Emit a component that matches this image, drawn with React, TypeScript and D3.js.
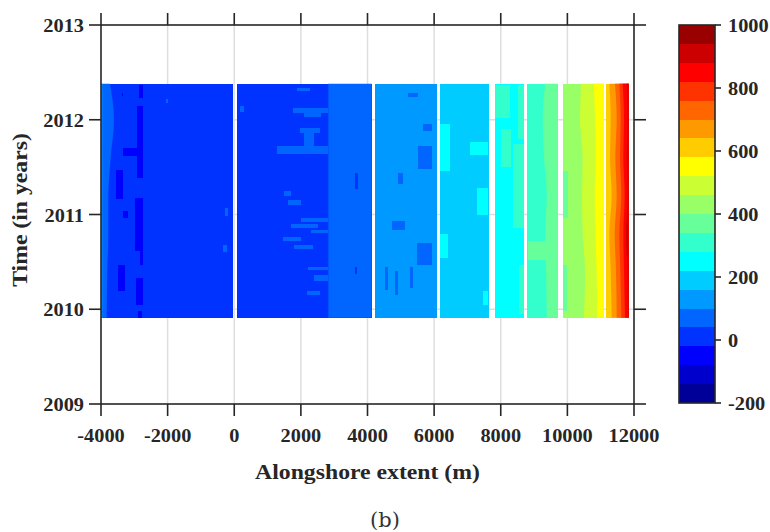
import React from 'react';
import * as d3 from 'd3';

// ---------- data ----------
const xTicks = [-4000, -2000, 0, 2000, 4000, 6000, 8000, 10000, 12000];
const yTicks = [2009, 2010, 2011, 2012, 2013];
const cbTicks = [-200, 0, 200, 400, 600, 800, 1000];

// data segments along shore: [xStart, xEnd, base value]
const segments: [number, number, number][] = [
  [-4000, -30, 10],
  [70, 4126, 10],
  [4225, 6078, 130],
  [6177, 7648, 190],
  [7819, 8707, 250],
  [8788, 9719, 310],
  [9860, 11100, 430],
  [11160, 11840, 610],
];

const timeKnots = [2012.38, 2012.0, 2011.6, 2011.2, 2010.8, 2010.4, 2009.91];

// contour bands: value, left edge per knot, right edge per knot
const bandValues = [70, 130, 70, 370, 490, 550, 670, 730, 790, 850, 910];
const bandLeft: (number | number[])[] = [
  -4000,
  -4000,
  2824,
  [9330, 9260, 9300, 9380, 9330, 9360, 9380],
  [10410, 10380, 10460, 10440, 10460, 10530, 10500],
  [10800, 10830, 10850, 10820, 10840, 10880, 10900],
  [11260, 11300, 11280, 11330, 11260, 11300, 11330],
  [11430, 11480, 11440, 11480, 11420, 11460, 11480],
  [11560, 11600, 11580, 11620, 11560, 11590, 11620],
  [11660, 11700, 11680, 11720, 11680, 11700, 11730],
  [11780, 11800, 11780, 11810, 11760, 11800, 11820],
];
const bandRight: (number | number[])[] = [
  [-3730, -3610, -3710, -3780, -3780, -3810, -3830],
  -3960,
  4126,
  9719,
  11100,
  11100,
  11840,
  11840,
  11840,
  11840,
  11840,
];

// patches: [x0, x1, tTop, tBottom, value]
const patches: [number, number, number, number, number][] = [
  // dark spots, west part
  [-2850, -2750, 2012.37, 2012.23, -50],
  [-2930, -2730, 2012.15, 2011.39, -50],
  [-2980, -2730, 2011.17, 2010.61, -50],
  [-2830, -2750, 2010.61, 2010.47, -50],
  [-2950, -2730, 2010.33, 2010.04, -50],
  [-2900, -2760, 2009.98, 2009.91, -50],
  [-3550, -3330, 2011.47, 2011.16, -50],
  [-3480, -3280, 2010.47, 2010.19, -50],
  [-3380, -3330, 2012.28, 2012.25, -50],
  [-3330, -2930, 2011.70, 2011.62, -50],
  [-3330, -3180, 2011.04, 2010.96, -50],
  [-280, -180, 2011.07, 2010.98, 70],
  [-330, -230, 2010.68, 2010.60, 70],
  [-2060, -1990, 2012.22, 2012.18, 70],
  // lighter speckles, 0-2800 m
  [1770, 2824, 2012.12, 2012.07, 70],
  [2100, 2600, 2012.07, 2012.03, 70],
  [1270, 2824, 2011.72, 2011.64, 70],
  [1970, 2570, 2011.91, 2011.86, 70],
  [2100, 2400, 2011.86, 2011.72, 70],
  [1500, 1700, 2011.25, 2011.20, 70],
  [1600, 2000, 2011.15, 2011.10, 70],
  [2000, 2824, 2010.96, 2010.92, 70],
  [1700, 2500, 2010.90, 2010.86, 70],
  [2300, 2824, 2010.84, 2010.80, 70],
  [1470, 2000, 2010.76, 2010.72, 70],
  [1800, 2370, 2010.68, 2010.64, 70],
  [2200, 2824, 2010.45, 2010.41, 70],
  [2400, 2824, 2010.36, 2010.30, 70],
  [2170, 2570, 2010.19, 2010.15, 70],
  [1870, 2270, 2012.34, 2012.30, 70],
  [170, 300, 2012.14, 2012.08, 70],
  [3630, 3700, 2011.44, 2011.27, 10],
  [3630, 3690, 2010.45, 2010.37, 10],
  // darker patches, 4200-6100 m
  [5530, 5930, 2011.72, 2011.48, 70],
  [5480, 5930, 2010.70, 2010.47, 70],
  [5280, 5380, 2010.45, 2010.22, 70],
  [4730, 5130, 2010.93, 2010.84, 70],
  [4930, 5080, 2011.44, 2011.32, 70],
  [4530, 4630, 2010.45, 2010.20, 70],
  [4830, 4930, 2010.40, 2010.15, 70],
  [5680, 5930, 2011.95, 2011.88, 70],
  [5230, 5530, 2012.28, 2012.24, 70],
  // cyan patches, 6200-7650 m
  [6180, 6480, 2011.95, 2011.46, 250],
  [7080, 7630, 2011.77, 2011.63, 250],
  [7280, 7630, 2011.28, 2011.00, 250],
  [6180, 6430, 2010.79, 2010.54, 250],
  [7480, 7630, 2010.19, 2010.05, 250],
  // aqua patches, 7800-8700 m
  [8530, 8707, 2012.37, 2011.80, 310],
  [8380, 8707, 2011.74, 2010.86, 310],
  [7820, 8280, 2012.37, 2012.02, 310],
  [8000, 8300, 2011.90, 2011.50, 310],
  [8550, 8707, 2010.47, 2009.95, 310],
  // green intrusions
  [8830, 9380, 2010.72, 2010.52, 370],
  [9860, 10030, 2011.46, 2010.96, 370],
  [9860, 9990, 2010.47, 2009.98, 370],
];

// ---------- style ----------
const jet20 = [
  '#000099', '#0000cc', '#0000ff', '#0033ff', '#0066ff',
  '#0099ff', '#00ccff', '#00ffff', '#33ffcc', '#66ff99',
  '#99ff66', '#ccff33', '#ffff00', '#ffcc00', '#ff9900',
  '#ff6600', '#ff3300', '#ff0000', '#cc0000', '#990000',
];

const W = 770;
const H = 532;
const plot = { left: 101, right: 634, top: 25, bottom: 404 };
const cb = { left: 679, right: 715, top: 25, bottom: 403 };
const AX = '#262626';
const FONT = "'Liberation Serif', 'Times New Roman', serif";
const STRETCH = 1.13;

const xS = d3.scaleLinear().domain([-4000, 12000]).range([plot.left, plot.right]);
const yS = d3.scaleLinear().domain([2009, 2013]).range([plot.bottom, plot.top]);
const cS = d3.scaleLinear().domain([-200, 1000]).range([cb.bottom, cb.top]);
const color = d3.scaleQuantize<string>().domain([-200, 1000]).range(jet20);

const edge = (e: number | number[], i: number) => (Array.isArray(e) ? e[i] : e);

function Label(props: {
  x: number; y: number; anchor?: string; size: number; rotate?: number; children: React.ReactNode;
  weight?: string; family?: string; stretch?: number; fill?: string;
}) {
  const { x, y, anchor = 'middle', size, rotate = 0, children, weight = 'bold', family = FONT, stretch = STRETCH, fill = AX } = props;
  return (
    <text
      transform={`translate(${x},${y}) rotate(${rotate}) scale(${stretch},1)`}
      textAnchor={anchor as any}
      fontSize={size}
      fontFamily={family}
      fontWeight={weight}
      fill={fill}
    >
      {children}
    </text>
  );
}

export default function App() {
  const idx = timeKnots.map((_, i) => i);
  const tTop = timeKnots[0];
  const tBot = timeKnots[timeKnots.length - 1];
  const TL = 12;

  const levelEdges = d3.range(jet20.length);
  const step = 1200 / jet20.length;

  return (
    <div style={{ position: 'absolute', left: 0, top: 0 }}>
      <svg width={W} height={H} style={{ display: 'block', background: '#fff' }}>
        {/* grid */}
        <g stroke="#dedede" strokeWidth={1.5}>
          {xTicks.slice(1, -1).map((t) => (
            <line key={'gx' + t} x1={xS(t)} x2={xS(t)} y1={plot.top} y2={plot.bottom} />
          ))}
          {yTicks.slice(1, -1).map((t) => (
            <line key={'gy' + t} y1={yS(t)} y2={yS(t)} x1={plot.left} x2={plot.right} />
          ))}
        </g>

        {/* base segments */}
        <g shapeRendering="crispEdges">
          {segments.map(([x0, x1, v], i) => (
            <rect key={'s' + i} x={xS(x0)} y={yS(tTop)} width={xS(x1) - xS(x0)} height={yS(tBot) - yS(tTop)} fill={color(v)} />
          ))}
        </g>

        {/* contour bands */}
        <g>
          {bandValues.map((v, b) => {
            const area = d3
              .area<number>()
              .curve(d3.curveMonotoneY)
              .y((i) => yS(timeKnots[i]))
              .x0((i) => xS(edge(bandLeft[b], i)))
              .x1((i) => xS(edge(bandRight[b], i)));
            return <path key={'b' + b} d={area(idx) || ''} fill={color(v)} />;
          })}
        </g>

        {/* patches */}
        <g shapeRendering="crispEdges">
          {patches.map(([x0, x1, t0, t1, v], i) => (
            <rect key={'p' + i} x={xS(x0)} y={yS(t0)} width={xS(x1) - xS(x0)} height={yS(t1) - yS(t0)} fill={color(v)} />
          ))}
        </g>

        {/* axes box and ticks */}
        <g stroke={AX} strokeWidth={1.6} fill="none">
          <rect x={plot.left} y={plot.top} width={plot.right - plot.left} height={plot.bottom - plot.top} />
          {xTicks.map((t) => (
            <g key={'tx' + t}>
              <line x1={xS(t)} x2={xS(t)} y1={plot.bottom} y2={plot.bottom + TL} />
              <line x1={xS(t)} x2={xS(t)} y1={plot.top} y2={plot.top - TL} />
            </g>
          ))}
          {yTicks.map((t) => (
            <g key={'ty' + t}>
              <line y1={yS(t)} y2={yS(t)} x1={plot.left} x2={plot.left - TL} />
              <line y1={yS(t)} y2={yS(t)} x1={plot.right} x2={plot.right + TL} />
            </g>
          ))}
        </g>

        {/* tick labels */}
        {xTicks.map((t) => (
          <Label key={'lx' + t} x={xS(t)} y={442} size={18}>{String(t)}</Label>
        ))}
        {yTicks.map((t) => (
          <Label key={'ly' + t} x={84} y={yS(t) + 7} size={18} anchor="end">{String(t)}</Label>
        ))}

        {/* axis titles */}
        <Label x={(plot.left + plot.right) / 2} y={479} size={21}>Alongshore extent (m)</Label>
        <Label x={27} y={210} size={21} rotate={-90}>Time (in years)</Label>

        {/* colorbar */}
        <g shapeRendering="crispEdges">
          {levelEdges.map((k) => {
            const lo = -200 + k * step;
            const hi = lo + step;
            return (
              <rect key={'cb' + k} x={cb.left} width={cb.right - cb.left} y={cS(hi)} height={cS(lo) - cS(hi)} fill={color(lo + step / 2)} />
            );
          })}
        </g>
        <g stroke={AX} strokeWidth={1.6} fill="none">
          <rect x={cb.left} y={cb.top} width={cb.right - cb.left} height={cb.bottom - cb.top} />
          {cbTicks.map((t) => (
            <line key={'ct' + t} x1={cb.right} x2={cb.right + 6} y1={cS(t)} y2={cS(t)} />
          ))}
        </g>
        {cbTicks.map((t) => (
          <Label key={'cl' + t} x={728} y={cS(t) + 7} size={18} anchor="start">{String(t)}</Label>
        ))}

        {/* caption */}
        <Label x={385} y={527} size={21} weight="normal" family="'DejaVu Serif', serif" stretch={1} fill="#333">(b)</Label>
      </svg>
    </div>
  );
}
